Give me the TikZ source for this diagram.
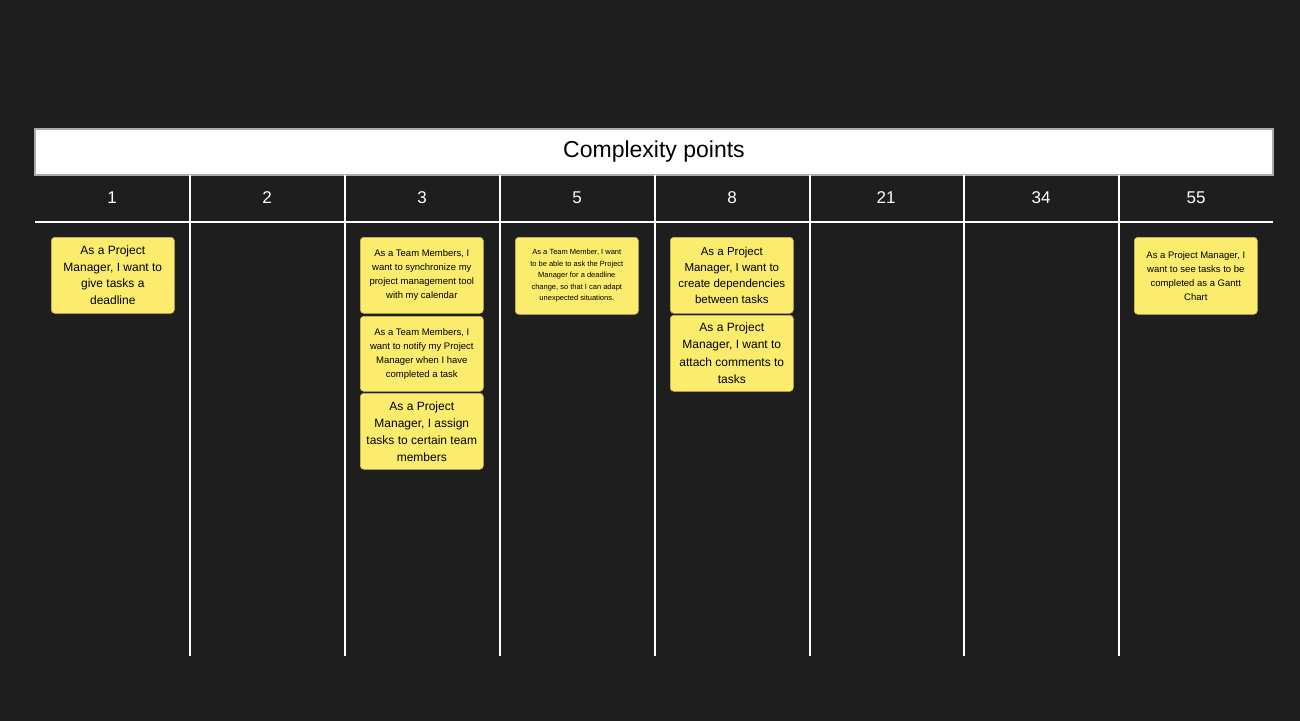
\documentclass[tikz,border=0pt]{standalone}
\usepackage{fontspec}
\setmainfont{Liberation Sans}
\begin{document}
\begin{tikzpicture}[x=1pt,y=-1pt,
  card/.style={draw=cardline,fill=cardfill,rounded corners=3.5pt,line width=0.6pt,
    minimum width=123pt,minimum height=76pt,inner sep=1pt,align=center,text=black,anchor=north west},
  grid/.style={draw=white,line width=1.5pt},
  head/.style={text=white,font=\fontsize{17}{20}\selectfont}]
\definecolor{bg}{HTML}{1E1E1E}
\definecolor{cardfill}{HTML}{FCEC6E}
\definecolor{cardline}{HTML}{C9B950}
\definecolor{titleline}{HTML}{AAAAAA}
\useasboundingbox (0,0) rectangle (1300,720);
\fill[bg] (-2,-2) rectangle (1302,722);
% title
\node[draw=titleline,line width=1.2pt,fill=white,minimum width=1238pt,minimum height=46pt,inner sep=0pt,
  font=\fontsize{23}{26}\selectfont] (title) at (654,152) {Complexity points};
% grid lines
\coordinate (hl) at (35,222);
\coordinate (hr) at (1273,222);
\draw[grid] (hl) -- (hr);
\foreach \x/\n in {190/a,345/b,500/c,655/d,810/e,964/f,1119/g}{
  \coordinate (t\n) at (\x,175);
  \coordinate (b\n) at (\x,656);
  \draw[grid] (t\n) -- (b\n);
}
% headers
\node[head] (h1) at (112,198) {1};
\node[head] (h2) at (267,198) {2};
\node[head] (h3) at (422,198) {3};
\node[head] (h5) at (577,198) {5};
\node[head] (h8) at (732,198) {8};
\node[head] (h21) at (886,198) {21};
\node[head] (h34) at (1041,198) {34};
\node[head] (h55) at (1196,198) {55};
% cards
\node[card,font=\fontsize{12}{16.5}\selectfont] (c1) at (51,237)
  {As a Project\\Manager, I want to\\give tasks a\\deadline};
\node[card,font=\fontsize{9.5}{14}\selectfont] (c3a) at (360,237)
  {As a Team Members, I\\want to synchronize my\\project management tool\\with my calendar};
\node[card,minimum height=75pt,font=\fontsize{9.5}{14}\selectfont] (c3b) at (360,316)
  {As a Team Members, I\\want to notify my Project\\Manager when I have\\completed a task};
\node[card,font=\fontsize{12}{17}\selectfont] (c3c) at (360,393)
  {As a Project\\Manager, I assign\\tasks to certain team\\members};
\node[card,minimum height=77pt,font=\fontsize{7.5}{11.5}\selectfont] (c5) at (515,237)
  {As a Team Member, I want\\to be able to ask the Project\\Manager for a deadline\\change, so that I can adapt\\unexpected situations.};
\node[card,font=\fontsize{11.5}{16}\selectfont] (c8a) at (670,237)
  {As a Project\\Manager, I want to\\create dependencies\\between tasks};
\node[card,font=\fontsize{12}{17.3}\selectfont] (c8b) at (670,315)
  {As a Project\\Manager, I want to\\attach comments to\\tasks};
\node[card,minimum height=77pt,font=\fontsize{9.5}{14}\selectfont] (c55) at (1134,237)
  {As a Project Manager, I\\want to see tasks to be\\completed as a Gantt\\Chart};
\end{tikzpicture}
\end{document}
